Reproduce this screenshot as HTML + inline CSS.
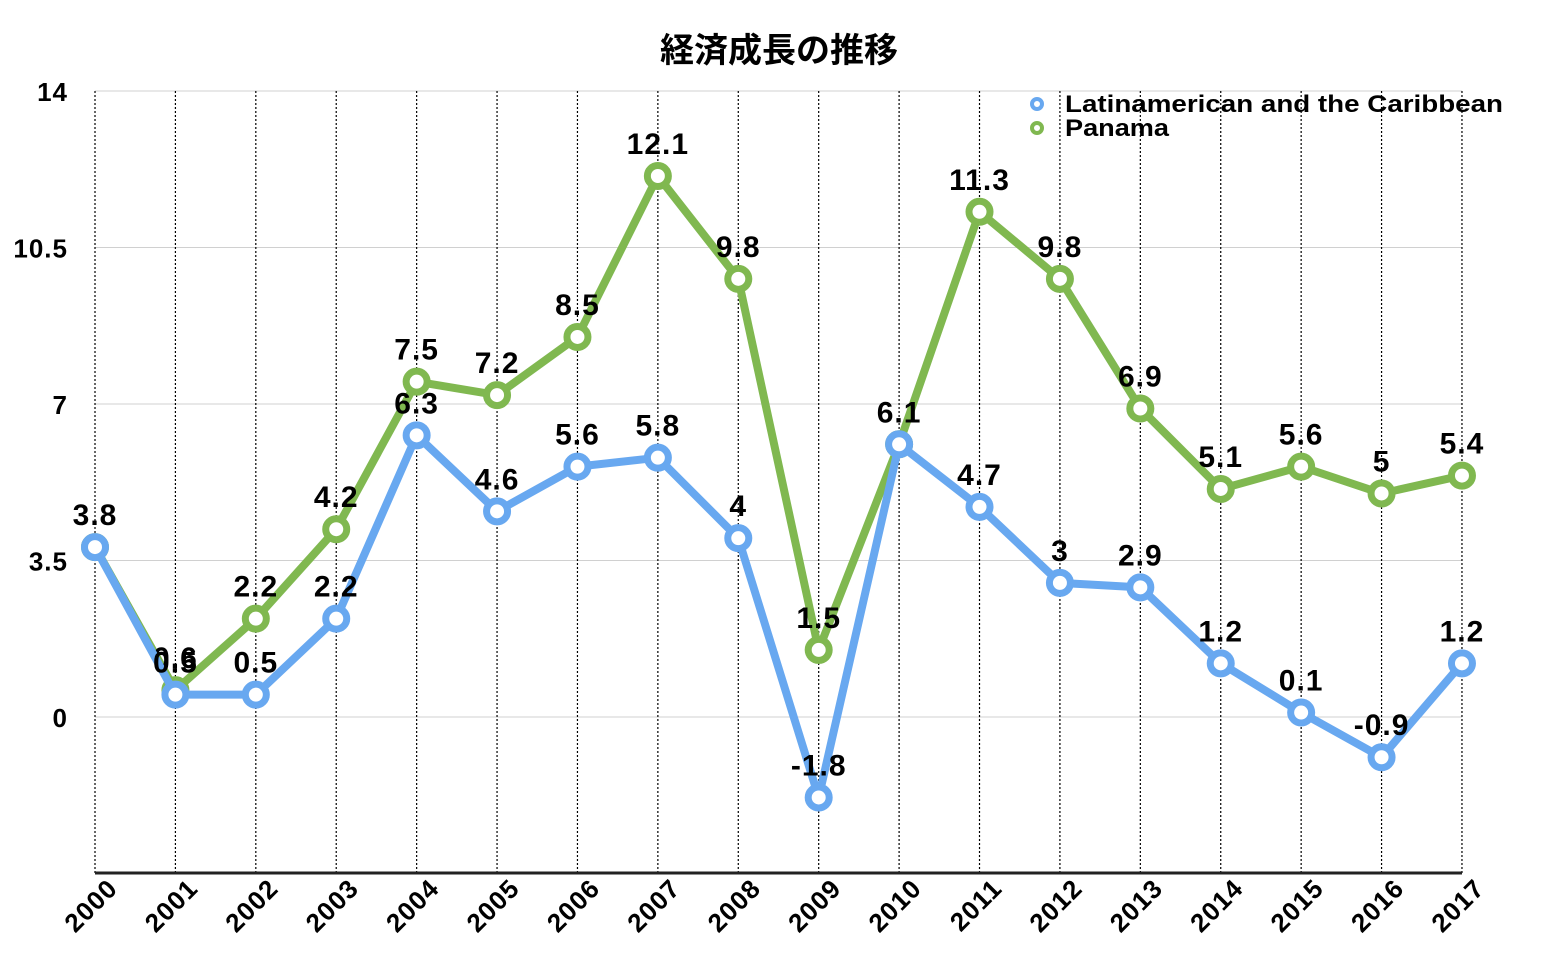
<!DOCTYPE html>
<html><head><meta charset="utf-8"><style>
html,body{margin:0;padding:0;background:#fff;}
svg{display:block;font-family:"Liberation Sans","Noto Sans CJK JP",sans-serif;font-weight:bold;}
</style></head><body>
<svg id="c" width="1558" height="976" xmlns="http://www.w3.org/2000/svg"></svg>
<script>
const s=document.getElementById('c');
let h='';
const X=i=>95+i*80.41, Y=v=>717-44.71*v;
h+='<text x="779" y="62" text-anchor="middle" font-size="34" font-family="Noto Sans CJK JP, sans-serif" font-weight="bold">経済成長の推移</text>';
[14,10.5,7,3.5,0].forEach(v=>{h+=`<line x1="95" x2="1462" y1="${Y(v)}" y2="${Y(v)}" stroke="#d0d0d0" stroke-width="1"/>`;
h+=`<text x="68" y="${Y(v)+10}" text-anchor="end" font-size="26" letter-spacing="1">${v}</text>`;});
for(let i=0;i<18;i++){h+=`<line x1="${X(i)}" x2="${X(i)}" y1="91" y2="873" stroke="#000" stroke-width="1.2" stroke-dasharray="2,2"/>`;
h+=`<text transform="translate(${X(i)+24},${890}) rotate(-45)" text-anchor="end" font-size="26" letter-spacing="1">${2000+i}</text>`;}
h+='<line x1="95" x2="1462" y1="873" y2="873" stroke="#222" stroke-width="3"/>';
const L=[3.8,0.5,0.5,2.2,6.3,4.6,5.6,5.8,4,-1.8,6.1,4.7,3,2.9,1.2,0.1,-0.9,1.2];
const P=[3.8,0.6,2.2,4.2,7.5,7.2,8.5,12.1,9.8,1.5,6.1,11.3,9.8,6.9,5.1,5.6,5,5.4];
function series(d,c,lab){
 h+=`<polyline fill="none" stroke="${c}" stroke-width="8" stroke-linejoin="round" points="${d.map((v,i)=>X(i)+','+Y(v)).join(' ')}"/>`;
 d.forEach((v,i)=>{h+=`<circle cx="${X(i)}" cy="${Y(v)}" r="10.5" fill="#fff" stroke="${c}" stroke-width="7"/>`;});
 d.forEach((v,i)=>{if(lab[i])h+=`<text x="${X(i)}" y="${Y(v)-22}" text-anchor="middle" font-size="30" letter-spacing="1">${v}</text>`;});
}
series(P,'#80b850',P.map((v,i)=>i!==10 && i!==0));
series(L,'#68a8f0',L.map(()=>true));
h+='<circle cx="1037" cy="104" r="5" fill="#fff" stroke="#68a8f0" stroke-width="4"/><text x="1065" y="112" font-size="24" textLength="438" lengthAdjust="spacingAndGlyphs">Latinamerican and the Caribbean</text>';
h+='<circle cx="1037" cy="128" r="5" fill="#fff" stroke="#80b850" stroke-width="4"/><text x="1065" y="136" font-size="24" textLength="104" lengthAdjust="spacingAndGlyphs">Panama</text>';
s.innerHTML=h;
</script>
</body></html>
